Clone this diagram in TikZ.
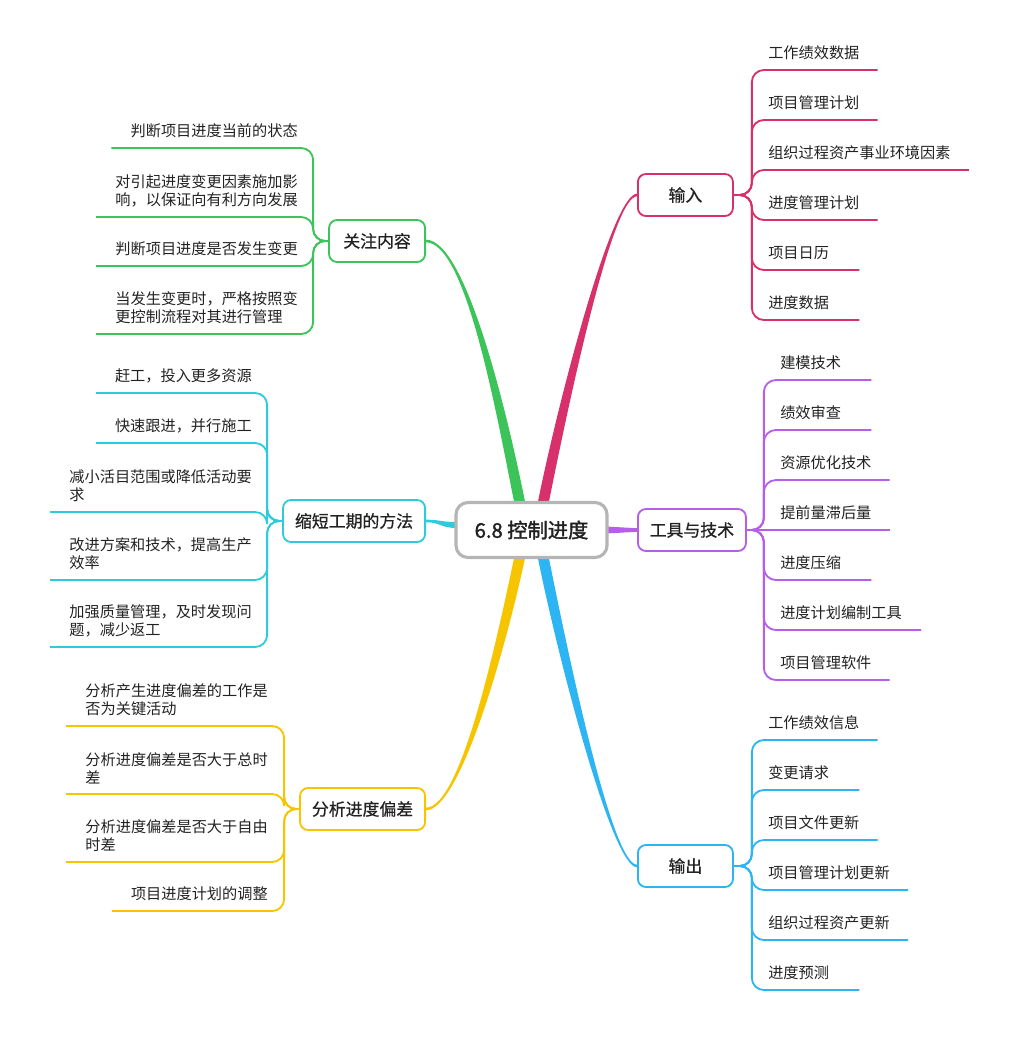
\documentclass[tikz,border=0pt]{standalone}
\usepackage{fontspec}
\setmainfont{Noto Sans CJK SC}
\newfontfamily\rootfont{Noto Sans CJK SC}[FakeBold=1.6]
\newfontfamily\topicfont{Noto Sans CJK SC}[FakeBold=0.7]
\usepackage{xcolor}
\usetikzlibrary{calc,positioning,backgrounds}

\definecolor{cin}{HTML}{D7306A}
\definecolor{ctl}{HTML}{B55FE8}
\definecolor{cout}{HTML}{2DB4F2}
\definecolor{cfo}{HTML}{3CC35A}
\definecolor{csh}{HTML}{2ECBDD}
\definecolor{can}{HTML}{F7C400}
\definecolor{cgray}{HTML}{B5B5B5}
\definecolor{ink}{HTML}{222222}

\begin{document}
\begin{tikzpicture}[
  x=0.025cm, y=-0.025cm,
  root/.style={draw=cgray, line width=2.2pt, rounded corners=0.3cm, fill=white,
               minimum width=3.775cm, minimum height=1.375cm, text=ink,
               font=\fontsize{14.4}{16}\selectfont\rootfont},
  topic/.style={draw=#1, line width=1.3pt, rounded corners=0.2cm, fill=white,
                minimum height=1.05cm, text=ink,
                font=\fontsize{12}{14}\selectfont\topicfont},
  leafR/.style={anchor=south west, inner xsep=0pt, inner ysep=0.25cm, align=left,
                text=ink, font=\fontsize{10.8}{12.8}\selectfont},
  leafL/.style={anchor=south east, inner xsep=0pt, inner ysep=0.25cm, align=left,
                text=ink, font=\fontsize{10.8}{12.8}\selectfont},
  wire/.style={draw=#1, line width=1.3pt, rounded corners=0.3cm},
]
\useasboundingbox (0,0) rectangle (1016,1060);

% main topics
\node[root] (c) at (531.5,530) {6.8 控制进度};
\node[topic=cin,  minimum width=2.375cm, anchor=west] (in)  at (637,195) {输入};
\node[topic=ctl,  minimum width=2.7cm,   anchor=west] (tl)  at (637,530) {工具与技术};
\node[topic=cout, minimum width=2.375cm, anchor=west] (out) at (637,866) {输出};
\node[topic=cfo,  minimum width=2.4cm,   anchor=east] (fo)  at (426,241) {关注内容};
\node[topic=csh,  minimum width=3.55cm,  anchor=east] (sh)  at (426,521) {缩短工期的方法};
\node[topic=can,  minimum width=3.125cm, anchor=east] (an)  at (426,809) {分析进度偏差};

% tapered branches
\begin{scope}[on background layer]
\fill[cin]  ($(c.north)+(6,3)$) .. controls +(20,-100) and +(-25,0) .. ($(in.west)+(0,-1.3)$)
  -- ($(in.west)+(0,1.3)$) .. controls +(-25,0) and +(20,-100) .. ($(c.north)+(17,3)$) -- cycle;
\fill[cfo]  ($(c.north)+(-6,3)$) .. controls +(-18,-90) and +(40,0) .. ($(fo.east)+(0,-1.3)$)
  -- ($(fo.east)+(0,1.3)$) .. controls +(40,0) and +(-18,-90) .. ($(c.north)+(-17,3)$) -- cycle;
\fill[cout] ($(c.south)+(6,-3)$) .. controls +(20,100) and +(-25,0) .. ($(out.west)+(0,1.3)$)
  -- ($(out.west)+(0,-1.3)$) .. controls +(-25,0) and +(20,100) .. ($(c.south)+(17,-3)$) -- cycle;
\fill[can]  ($(c.south)+(-6,-3)$) .. controls +(-18,85) and +(35,0) .. ($(an.east)+(0,1.3)$)
  -- ($(an.east)+(0,-1.3)$) .. controls +(35,0) and +(-18,85) .. ($(c.south)+(-17,-3)$) -- cycle;
\fill[csh]  ($(c.west)+(3,-8)$) .. controls +(-18,0) and +(15,0) .. ($(sh.east)+(0,-1.3)$)
  -- ($(sh.east)+(0,1.3)$) .. controls +(15,0) and +(-18,0) .. ($(c.west)+(3,-2)$) -- cycle;
\fill[ctl]  ($(c.east)+(-3,-3.5)$) -- ($(tl.west)+(0,-1.8)$) -- ($(tl.west)+(0,1.8)$)
  -- ($(c.east)+(-3,3.5)$) -- cycle;
\end{scope}

% hubs
\coordinate (inh)  at ($(in.east)+(18,0)$);
\coordinate (tlh)  at ($(tl.east)+(17,0)$);
\coordinate (outh) at ($(out.east)+(18,0)$);
\coordinate (foh)  at ($(fo.west)+(-15,0)$);
\coordinate (shh)  at ($(sh.west)+(-15,0)$);
\coordinate (anh)  at ($(an.west)+(-15,0)$);

% inputs
\node[leafR] (in1) at (768,70)  {工作绩效数据};
\node[leafR] (in2) at (768,120) {项目管理计划};
\node[leafR] (in3) at (768,170) {组织过程资产事业环境因素};
\node[leafR] (in4) at (768,220) {进度管理计划};
\node[leafR] (in5) at (768,270) {项目日历};
\node[leafR] (in6) at (768,320) {进度数据};
\draw[wire=cin] (in.east) -- (inh) |- ($(in1.south east)+(18,0)$);
\draw[wire=cin] (in.east) -- (inh) |- ($(in2.south east)+(18,0)$);
\draw[wire=cin] (in.east) -- (inh) |- ($(in3.south east)+(18,0)$);
\draw[wire=cin] (in.east) -- (inh) |- ($(in4.south east)+(18,0)$);
\draw[wire=cin] (in.east) -- (inh) |- ($(in5.south east)+(30,0)$);
\draw[wire=cin] (in.east) -- (inh) |- ($(in6.south east)+(30,0)$);

% tools and techniques
\node[leafR] (tl1) at (780,380) {建模技术};
\node[leafR] (tl2) at (780,430) {绩效审查};
\node[leafR] (tl3) at (780,480) {资源优化技术};
\node[leafR] (tl4) at (780,530) {提前量滞后量};
\node[leafR] (tl5) at (780,580) {进度压缩};
\node[leafR] (tl6) at (780,630) {进度计划编制工具};
\node[leafR] (tl7) at (780,680) {项目管理软件};
\draw[wire=ctl] (tl.east) -- (tlh) |- ($(tl1.south east)+(30,0)$);
\draw[wire=ctl] (tl.east) -- (tlh) |- ($(tl2.south east)+(30,0)$);
\draw[wire=ctl] (tl.east) -- (tlh) |- ($(tl3.south east)+(18,0)$);
\draw[wire=ctl] (tl.east) -- ($(tl4.south east)+(18,0)$);
\draw[wire=ctl] (tl.east) -- (tlh) |- ($(tl5.south east)+(30,0)$);
\draw[wire=ctl] (tl.east) -- (tlh) |- ($(tl6.south east)+(19,0)$);
\draw[wire=ctl] (tl.east) -- (tlh) |- ($(tl7.south east)+(18,0)$);

% outputs
\node[leafR] (out1) at (768,740) {工作绩效信息};
\node[leafR] (out2) at (768,790) {变更请求};
\node[leafR] (out3) at (768,840) {项目文件更新};
\node[leafR] (out4) at (768,890) {项目管理计划更新};
\node[leafR] (out5) at (768,940) {组织过程资产更新};
\node[leafR] (out6) at (768,990) {进度预测};
\draw[wire=cout] (out.east) -- (outh) |- ($(out1.south east)+(18,0)$);
\draw[wire=cout] (out.east) -- (outh) |- ($(out2.south east)+(30,0)$);
\draw[wire=cout] (out.east) -- (outh) |- ($(out3.south east)+(18,0)$);
\draw[wire=cout] (out.east) -- (outh) |- ($(out4.south east)+(18,0)$);
\draw[wire=cout] (out.east) -- (outh) |- ($(out5.south east)+(18,0)$);
\draw[wire=cout] (out.east) -- (outh) |- ($(out6.south east)+(30,0)$);

% focus
\node[leafL] (fo1) at (298,148) {判断项目进度当前的状态};
\node[leafL] (fo2) at (298,217) {对引起进度变更因素施加影\\响，以保证向有利方向发展};
\node[leafL] (fo3) at (298,266) {判断项目进度是否发生变更};
\node[leafL] (fo4) at (298,334) {当发生变更时，严格按照变\\更控制流程对其进行管理};
\draw[wire=cfo] (fo.west) -- (foh) |- ($(fo1.south west)+(-19,0)$);
\draw[wire=cfo] (fo.west) -- (foh) |- ($(fo2.south west)+(-19,0)$);
\draw[wire=cfo] (fo.west) -- (foh) |- ($(fo3.south west)+(-19,0)$);
\draw[wire=cfo] (fo.west) -- (foh) |- ($(fo4.south west)+(-19,0)$);

% shortening the schedule
\node[leafL] (sh1) at (252,393) {赶工，投入更多资源};
\node[leafL] (sh2) at (252,443) {快速跟进，并行施工};
\node[leafL] (sh3) at (252,512) {减小活目范围或降低活动要\\求};
\node[leafL] (sh4) at (252,580) {改进方案和技术，提高生产\\效率};
\node[leafL] (sh5) at (252,647) {加强质量管理，及时发现问\\题，减少返工};
\draw[wire=csh] (sh.west) -- (shh) |- ($(sh1.south west)+(-19,0)$);
\draw[wire=csh] (sh.west) -- (shh) |- ($(sh2.south west)+(-19,0)$);
\draw[wire=csh] (sh.west) -- (shh) |- ($(sh3.south west)+(-19,0)$);
\draw[wire=csh] (sh.west) -- (shh) |- ($(sh4.south west)+(-19,0)$);
\draw[wire=csh] (sh.west) -- (shh) |- ($(sh5.south west)+(-19,0)$);

% deviation analysis
\node[leafL] (an1) at (268,726) {分析产生进度偏差的工作是\\否为关键活动};
\node[leafL] (an2) at (268,794) {分析进度偏差是否大于总时\\差};
\node[leafL] (an3) at (268,862) {分析进度偏差是否大于自由\\时差};
\node[leafL] (an4) at (268,911) {项目进度计划的调整};
\draw[wire=can] (an.west) -- (anh) |- ($(an1.south west)+(-19,0)$);
\draw[wire=can] (an.west) -- (anh) |- ($(an2.south west)+(-19,0)$);
\draw[wire=can] (an.west) -- (anh) |- ($(an3.south west)+(-19,0)$);
\draw[wire=can] (an.west) -- (anh) |- ($(an4.south west)+(-19,0)$);
\end{tikzpicture}
\end{document}
